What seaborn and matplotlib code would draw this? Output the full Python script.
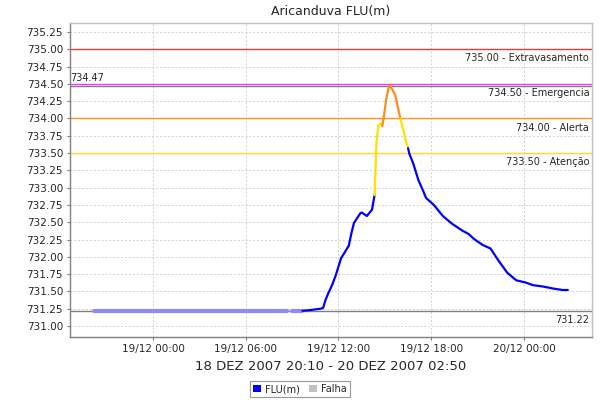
import matplotlib
matplotlib.use("Agg")
import matplotlib.pyplot as plt
import matplotlib.dates as mdates
from matplotlib.patches import Patch
import seaborn as sns
import pandas as pd

# ---------------- data ----------------
title = "Aricanduva FLU(m)"
xlabel = "18 DEZ 2007 20:10 - 20 DEZ 2007 02:50"
series_name = "FLU(m)"
falha_name = "Falha"

falha_times_a = ["2007-12-18 20:10", "2007-12-19 08:40"]
falha_times_b = ["2007-12-19 09:00", "2007-12-19 09:40"]
falha_level = 731.22

flu_times = [
    "2007-12-19 09:40", "2007-12-19 10:10", "2007-12-19 10:50", "2007-12-19 11:00",
    "2007-12-19 11:10", "2007-12-19 11:20", "2007-12-19 11:35", "2007-12-19 11:45",
    "2007-12-19 11:50", "2007-12-19 12:00", "2007-12-19 12:10", "2007-12-19 12:25",
    "2007-12-19 12:40", "2007-12-19 12:50", "2007-12-19 13:00", "2007-12-19 13:25",
    "2007-12-19 13:30", "2007-12-19 13:50", "2007-12-19 14:10", "2007-12-19 14:20",
    "2007-12-19 14:28", "2007-12-19 14:35", "2007-12-19 14:45", "2007-12-19 14:50",
    "2007-12-19 14:55", "2007-12-19 15:05", "2007-12-19 15:15", "2007-12-19 15:20",
    "2007-12-19 15:30", "2007-12-19 15:40", "2007-12-19 15:50", "2007-12-19 16:00",
    "2007-12-19 16:10", "2007-12-19 16:20", "2007-12-19 16:30", "2007-12-19 16:35",
    "2007-12-19 16:50", "2007-12-19 17:10", "2007-12-19 17:30", "2007-12-19 17:40",
    "2007-12-19 18:10", "2007-12-19 18:45", "2007-12-19 19:20", "2007-12-19 20:00",
    "2007-12-19 20:25", "2007-12-19 20:45", "2007-12-19 21:20", "2007-12-19 21:50",
    "2007-12-19 22:20", "2007-12-19 22:55", "2007-12-19 23:30", "2007-12-20 00:05",
    "2007-12-20 00:35", "2007-12-20 01:15", "2007-12-20 01:55", "2007-12-20 02:30",
    "2007-12-20 02:50",
]
flu_values = [
    731.22, 731.23, 731.25, 731.26,
    731.38, 731.47, 731.59, 731.69,
    731.74, 731.86, 731.98, 732.07,
    732.16, 732.34, 732.49, 732.63,
    732.64, 732.59, 732.68, 732.89,
    733.69, 733.90, 733.93, 733.89,
    734.00, 734.27, 734.45, 734.47,
    734.41, 734.34, 734.17, 734.00,
    733.86, 733.69, 733.57, 733.49,
    733.35, 733.11, 732.94, 732.85,
    732.75, 732.59, 732.48, 732.38,
    732.33, 732.26, 732.17, 732.12,
    731.95, 731.77, 731.66, 731.63,
    731.59, 731.57, 731.54, 731.52,
    731.52,
]

threshold_values = [735.00, 734.50, 734.00, 733.50]
threshold_labels = ["735.00 - Extravasamento", "734.50 - Emergencia",
                    "734.00 - Alerta", "733.50 - Atenção"]
threshold_colors = ["#e83a3a", "#ff33ff", "#ff9422", "#ffd633"]
max_value = 734.47
min_value = 731.22

y_ticks = [731.00 + 0.25 * i for i in range(18)]

# ---------------- style ----------------
sns.set_style("white")
plt.rcParams["font.family"] = ["DejaVu Sans"]

fig = plt.figure(figsize=(6, 4), dpi=100)
ax = fig.add_axes([70 / 600, 1 - 337 / 400, 522 / 600, 314 / 400])

BLUE = "#0000ff"
YELLOW = "#ffe000"
ORANGE = "#ff8c1a"

def seg_color(v):
    if v >= 734.0:
        return ORANGE
    if v >= 733.5:
        return YELLOW
    return BLUE

df = pd.DataFrame({"t": pd.to_datetime(flu_times), "v": flu_values})

# threshold / reference lines
for val, col in zip(threshold_values, threshold_colors):
    ax.axhline(val, color=col, lw=1.0, zorder=2)
ax.axhline(max_value, color="#808080", lw=1.0, zorder=2)
ax.axhline(min_value, color="#808080", lw=1.0, zorder=2)

# falha segments
for ft in (falha_times_a, falha_times_b):
    fdf = pd.DataFrame({"t": pd.to_datetime(ft), "v": [falha_level] * len(ft)})
    sns.lineplot(data=fdf, x="t", y="v", ax=ax, color="#8c8cf2", lw=3.0,
                 estimator=None, sort=False, zorder=3)

# colored runs (segment color by end value)
runs = []
cur_color = seg_color(df.v.iloc[1])
cur = [0]
for i in range(1, len(df)):
    c = seg_color(df.v.iloc[i])
    if c != cur_color:
        runs.append((cur_color, cur))
        cur = [i - 1]
        cur_color = c
    cur.append(i)
runs.append((cur_color, cur))
for c, idx in runs:
    sub = df.iloc[idx]
    sns.lineplot(data=sub, x="t", y="v", ax=ax, color=c, lw=1.6,
                 estimator=None, sort=False, zorder=4)

# limits
t0 = pd.Timestamp("2007-12-19 00:00")
ax.set_xlim(t0 - pd.Timedelta(hours=5.37), t0 + pd.Timedelta(hours=28.40))
ax.set_ylim(730.841, 735.379)

ax.set_yticks(y_ticks)
ax.set_yticklabels([f"{v:.2f}" for v in y_ticks], fontsize=7.5)
ax.xaxis.set_major_locator(mdates.HourLocator(byhour=[0, 6, 12, 18]))
ax.xaxis.set_major_formatter(mdates.DateFormatter("%d/%m %H:%M"))
for lab in ax.get_xticklabels():
    lab.set_fontsize(7.5)
ax.tick_params(axis="both", length=2, width=0.8, color="#808080", pad=3,
               left=True, bottom=True)

ax.grid(True, color="#d0d0d0", ls=(0, (2, 2)), lw=0.7)
ax.set_axisbelow(True)
ax.spines["left"].set_color("#808080")
ax.spines["bottom"].set_color("#808080")
ax.spines["top"].set_color("#c0c0c0")
ax.spines["right"].set_color("#c0c0c0")
for s in ax.spines.values():
    s.set_linewidth(1.0)

ax.set_ylabel("")
ax.set_xlabel(xlabel, fontsize=9.5, labelpad=4)
ax.set_title(title, fontsize=9, pad=6)

# threshold labels (right aligned, below line)
xr = ax.get_xlim()[1]
for val, lab in zip(threshold_values, threshold_labels):
    ax.annotate(lab, xy=(1, val), xycoords=("axes fraction", "data"),
                xytext=(-2, -3), textcoords="offset points",
                ha="right", va="top", fontsize=7, zorder=6)
ax.annotate(f"{max_value:.2f}", xy=(0, max_value), xycoords=("axes fraction", "data"),
            xytext=(0, 2), textcoords="offset points",
            ha="left", va="bottom", fontsize=7, zorder=6)
ax.annotate(f"{min_value:.2f}", xy=(1, min_value), xycoords=("axes fraction", "data"),
            xytext=(-2, -3), textcoords="offset points",
            ha="right", va="top", fontsize=7, zorder=6)

handles = [Patch(facecolor=BLUE, edgecolor="none", label=series_name),
           Patch(facecolor="#c0c0c0", edgecolor="none", label=falha_name)]
leg = fig.legend(handles=handles, loc="center", bbox_to_anchor=(0.5, 0.0275),
                 ncol=2, fontsize=7, frameon=True, fancybox=False,
                 handlelength=0.8, handleheight=0.8, handletextpad=0.4,
                 columnspacing=1.0, borderpad=0.3, borderaxespad=0)
leg.get_frame().set_edgecolor("#808080")
leg.get_frame().set_linewidth(0.8)

fig.savefig("out.png", dpi=100)
